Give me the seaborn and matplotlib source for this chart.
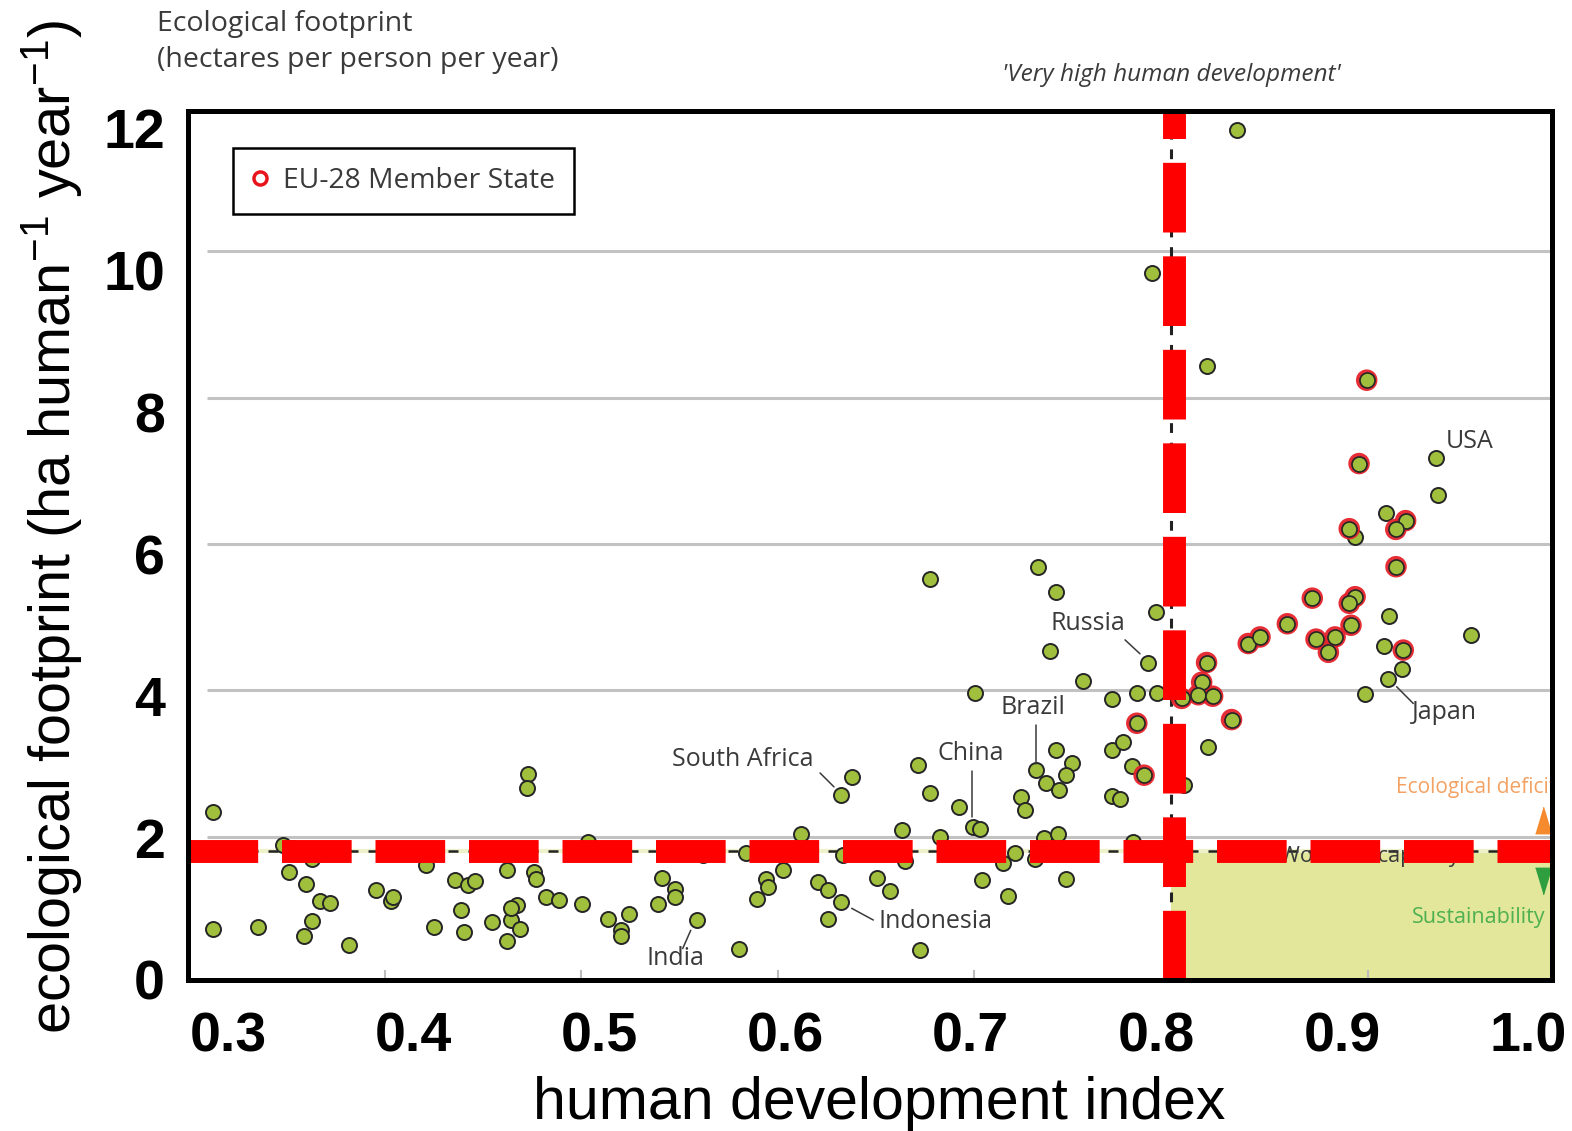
import matplotlib
matplotlib.use("Agg")
import pandas as pd
import seaborn as sns
import matplotlib.pyplot as plt
from matplotlib.lines import Line2D
from matplotlib.transforms import blended_transform_factory

# ---------------------------------------------------------------------------
# Data: human development index (x) and ecological footprint in ha/person/yr (y)
# ---------------------------------------------------------------------------
hdi_other = [
    0.3126, 0.3126, 0.3352, 0.3480, 0.3525, 0.3630, 0.3510, 0.3598, 0.3669, 0.3720,
    0.3630, 0.3588, 0.3815, 0.3954, 0.4030, 0.4042, 0.4207, 0.4250, 0.4356, 0.4424,
    0.4458, 0.4385, 0.4404, 0.4543, 0.4619, 0.4640, 0.4670, 0.4640, 0.4619, 0.4687,
    0.4730, 0.4721, 0.4760, 0.4768, 0.4819, 0.4887, 0.5004, 0.5035, 0.5133, 0.5201,
    0.5201, 0.5240, 0.5408, 0.5388, 0.5476, 0.5476, 0.5586, 0.5802, 0.5620, 0.5837,
    0.6117, 0.6027, 0.5939, 0.5950, 0.5895, 0.6205, 0.6256, 0.6321, 0.6253, 0.6321,
    0.6375, 0.6330, 0.6630, 0.6506, 0.6570, 0.6646, 0.6714, 0.6774, 0.6824, 0.6923,
    0.6994, 0.7028, 0.6723, 0.7040, 0.7147, 0.7206, 0.7169, 0.7311, 0.7413, 0.7495,
    0.7464, 0.7364, 0.7432, 0.7237, 0.7257, 0.7355, 0.7423, 0.7308, 0.7464, 0.7698,
    0.7758, 0.7698, 0.7740, 0.7800, 0.7808, 0.6774, 0.7325, 0.7415, 0.7924, 0.7384,
    0.7885, 0.7551, 0.7003, 0.7698, 0.7826, 0.7928, 0.8190, 0.8066, 0.8181, 0.9349,
    0.9361, 0.9094, 0.8937, 0.9111, 0.9527, 0.9082, 0.9174, 0.9106, 0.8987, 0.8337,
    0.7905,
]
footprint_other = [
    2.33, 0.74, 0.77, 1.88, 1.84, 1.69, 1.51, 1.35, 1.12, 1.09,
    0.84, 0.64, 0.52, 1.27, 1.12, 1.17, 1.61, 0.76, 1.41, 1.34,
    1.39, 1.00, 0.69, 0.83, 1.55, 0.86, 1.06, 1.02, 0.58, 0.74,
    2.86, 2.66, 1.51, 1.42, 1.18, 1.14, 1.08, 1.93, 0.87, 0.72,
    0.64, 0.94, 1.44, 1.08, 1.29, 1.18, 0.86, 0.46, 1.75, 1.77,
    2.03, 1.54, 1.42, 1.31, 1.15, 1.38, 1.27, 1.11, 0.88, 2.57,
    2.82, 1.75, 2.09, 1.44, 1.25, 1.67, 2.98, 2.59, 2.00, 2.40,
    2.13, 2.11, 0.45, 1.41, 1.64, 1.78, 1.19, 2.91, 3.18, 3.01,
    2.84, 2.73, 2.64, 2.54, 2.36, 1.98, 2.03, 1.70, 1.42, 3.18,
    3.29, 2.55, 2.51, 2.96, 1.93, 5.52, 5.68, 5.35, 5.07, 4.54,
    4.38, 4.13, 3.97, 3.88, 3.97, 3.97, 3.23, 2.70, 8.43, 7.17,
    6.67, 6.42, 6.10, 5.01, 4.76, 4.61, 4.29, 4.16, 3.95, 11.66,
    9.71,
]
hdi_eu = [
    0.7863, 0.7826, 0.8181, 0.8156, 0.8139, 0.8212, 0.8054, 0.8308, 0.8393, 0.8453,
    0.8592, 0.8719, 0.8738, 0.8801, 0.8835, 0.8996, 0.8957, 0.9194, 0.9144, 0.8907,
    0.9145, 0.8937, 0.8907, 0.8916, 0.9182,
]
footprint_eu = [
    2.84, 3.55, 4.38, 4.11, 3.94, 3.92, 3.89, 3.60, 4.64, 4.73,
    4.91, 5.26, 4.70, 4.52, 4.73, 8.24, 7.10, 6.32, 6.20, 6.21,
    5.69, 5.28, 5.19, 4.89, 4.55,
]

world_biocapacity = 1.8          # ha per person
very_high_hdi = 0.8              # threshold of 'very high human development'
grid_levels = [2, 4, 6, 8, 10]
x_ticks = [0.3, 0.4, 0.5, 0.6, 0.7, 0.8, 0.9, 1.0]
y_ticks = [0, 2, 4, 6, 8, 10, 12]

countries = ["USA", "Japan", "Russia", "Brazil", "China", "South Africa", "Indonesia", "India"]

df = pd.DataFrame({
    "hdi": hdi_other + hdi_eu,
    "footprint": footprint_other + footprint_eu,
    "eu": [False] * len(hdi_other) + [True] * len(hdi_eu),
})

# ---------------------------------------------------------------------------
# Style
# ---------------------------------------------------------------------------
sns.set_theme(style="white")
plt.rcParams["font.family"] = ["Open Sans", "DejaVu Sans"]
plt.rcParams["mathtext.fontset"] = "custom"
plt.rcParams["mathtext.rm"] = "Liberation Sans"
plt.rcParams["mathtext.it"] = "Liberation Sans:italic"
plt.rcParams["mathtext.bf"] = "Liberation Sans:bold"

GREEN = "#a0bf3c"
DOT_EDGE = "#262626"
EU_RED = "#e5222b"
TEXT = "#3a3a3a"
BIG = ["Liberation Sans", "DejaVu Sans"]

W, H = 1572, 1131
fig = plt.figure(figsize=(W / 100, H / 100), dpi=100)
fig.patch.set_facecolor("white")

L, R, T, B = 188, 1552, 111, 980
rect = [L / W, 1 - B / H, (R - L) / W, (B - T) / H]

# Data panel
ax = fig.add_axes(rect)
ax.set_facecolor("white")
ax.set_xlim(0.29975, 0.99389)
ax.set_ylim(0.04, 11.92)
for s in ax.spines.values():
    s.set_visible(False)
ax.set_xticks(x_ticks[:-1])
ax.set_yticks([])
ax.tick_params(axis="x", direction="in", length=7, width=1.5, color="#bdbdbd",
               labelbottom=False, bottom=True)

# light horizontal grid
ax.hlines(grid_levels, 0.3095, 1.0, color="#c2c2c2", lw=2.2, zorder=1)

# sustainability quadrant
ax.fill_between([very_high_hdi, 1.0], 0, world_biocapacity, color="#e2e79b", lw=0, zorder=0.5)

# world biocapacity and HDI threshold (thin black dashes)
ax.axhline(world_biocapacity, color="#eef1c9", lw=3.0, zorder=1.5)
ax.axhline(world_biocapacity, color="#222222", lw=1.8, dashes=(4, 4), zorder=1.6)
ax.axvline(very_high_hdi, color="#222222", lw=2.2, dashes=(3.2, 3.2), zorder=1.6)

ax.text(0.8555, world_biocapacity - 0.07, "World biocapacity", fontsize=15.5, color=TEXT,
        va="center", ha="left", zorder=5.5)

# countries
sns.scatterplot(data=df[~df.eu], x="hdi", y="footprint", s=117, color=GREEN,
                edgecolor=DOT_EDGE, linewidth=1.4, ax=ax, zorder=3, legend=False)
sns.scatterplot(data=df[df.eu], x="hdi", y="footprint", s=240, color=EU_RED,
                edgecolor="none", linewidth=0, alpha=0.95, ax=ax, zorder=4, legend=False)
sns.scatterplot(data=df[df.eu], x="hdi", y="footprint", s=117, color=GREEN,
                edgecolor=DOT_EDGE, linewidth=1.2, ax=ax, zorder=4.5, legend=False)
ax.set_xlabel("")
ax.set_ylabel("")

# thick red threshold lines
ax.axhline(world_biocapacity, color="#ff0000", lw=16.5, dashes=(3.04, 1.04),
           dash_capstyle="butt", zorder=6)
ax.axvline(very_high_hdi + 0.0015, color="#ff0000", lw=16.5, dashes=(3.04, 1.04),
           dash_capstyle="butt", zorder=6)

# deficit / sustainability hints on the right edge
ax.text(0.9145, 2.67, "Ecological deficit", fontsize=15, color="#f4a263",
        va="center", ha="left", clip_on=True, zorder=5)
ax.text(0.9903, 0.89, "Sustainability", fontsize=15.5, color="#4fb050",
        va="center", ha="right", zorder=5)
tri_up = [(-0.6, -1), (0.6, -1), (0, 1)]
tri_dn = [(-0.6, 1), (0.6, 1), (0, -1)]
ax.plot([0.9893], [2.23], marker=tri_up, ms=19, color="#f58a2e", ls="none",
        clip_on=True, zorder=5)
ax.plot([0.9893], [1.39], marker=tri_dn, ms=19, color="#2e9e3e", ls="none",
        clip_on=True, zorder=5)

# country labels and leader lines
label_pos = {
    "USA": (0.9398, 7.40, "left"),
    "Japan": (0.9225, 3.70, "left"),
    "Russia": (0.7388, 4.92, "left"),
    "Brazil": (0.7298, 3.77, "center"),
    "China": (0.6980, 3.14, "center"),
    "South Africa": (0.5822, 3.05, "center"),
    "Indonesia": (0.6514, 0.84, "left"),
    "India": (0.5333, 0.34, "left"),
}
leaders = {
    "Japan": ((0.9148, 0.9233), (4.05, 3.82)),
    "Russia": ((0.7766, 0.7842), (4.69, 4.50)),
    "Brazil": ((0.7313, 0.7313), (3.53, 2.99)),
    "China": ((0.6986, 0.6986), (2.90, 2.27)),
    "South Africa": ((0.6214, 0.6285), (2.87, 2.68)),
    "Indonesia": ((0.6375, 0.6485), (1.02, 0.86)),
    "India": ((0.5556, 0.5515), (0.72, 0.47)),
}
for name in countries:
    lx, ly, ha = label_pos[name]
    ax.text(lx, ly, name, fontsize=18, color=TEXT, ha=ha, va="center", zorder=7)
    if name in leaders:
        xs, ys = leaders[name]
        ax.plot(xs, ys, color=TEXT, lw=1.1, zorder=7)

# 'Very high human development' above the threshold
trans = blended_transform_factory(ax.transData, ax.transAxes)
ax.text(very_high_hdi, 1.0414, "'Very high human development'", transform=trans,
        fontsize=17.6, style="italic", color=TEXT, ha="center", va="center", clip_on=False)

# Header of the footprint scale
fig.text(157 / W, 1 - 24 / H, "Ecological footprint", fontsize=20.5, color=TEXT,
         ha="left", va="center")
fig.text(157 / W, 1 - 60 / H, "(hectares per person per year)", fontsize=20.5,
         color=TEXT, ha="left", va="center")

# Outer frame with the bold scales
frame = fig.add_axes(rect, facecolor="none")
frame.set_zorder(ax.get_zorder() + 1)
frame.set_xlim(0.2785, 1.0129)
frame.set_ylim(0, 12.24)
for s in frame.spines.values():
    s.set_visible(True)
    s.set_color("black")
    s.set_linewidth(3.6)
frame.set_xticks(x_ticks, [f"{t:.1f}" for t in x_ticks], fontsize=40,
                 fontweight="bold", family=BIG)
frame.set_yticks(y_ticks, [str(t) for t in y_ticks], fontsize=40,
                 fontweight="bold", family=BIG)
frame.tick_params(axis="x", length=0, pad=23, colors="black")
frame.tick_params(axis="y", length=0, pad=16.5, colors="black")

frame.set_xlabel("human development index", fontsize=42.5, family=BIG, color="black")
frame.xaxis.set_label_coords(0.507, -0.11)
frame.set_ylabel("ecological footprint (ha human$^{-1}$ year$^{-1}$)", fontsize=41.5,
                 family=BIG, color="black")
frame.yaxis.set_label_coords(-0.076, 0.521)

eu_handle = Line2D([], [], marker="o", ls="none", mfc="white", mec="#e8141c",
                   mew=2.5, ms=9.4)
leg = frame.legend(handles=[eu_handle], labels=["EU-28 Member State"], loc="upper left",
                   bbox_to_anchor=(233 / W, 1 - 148 / H), bbox_transform=fig.transFigure,
                   frameon=True, fancybox=False, edgecolor="black", framealpha=1,
                   borderpad=0.68, handlelength=0.55, handletextpad=0.54,
                   borderaxespad=0, prop={"family": ["Open Sans", "DejaVu Sans"], "size": 20.3})
leg.get_frame().set_linewidth(1.8)
for t in leg.get_texts():
    t.set_color(TEXT)

fig.savefig("out.png", dpi=100, facecolor="white")
